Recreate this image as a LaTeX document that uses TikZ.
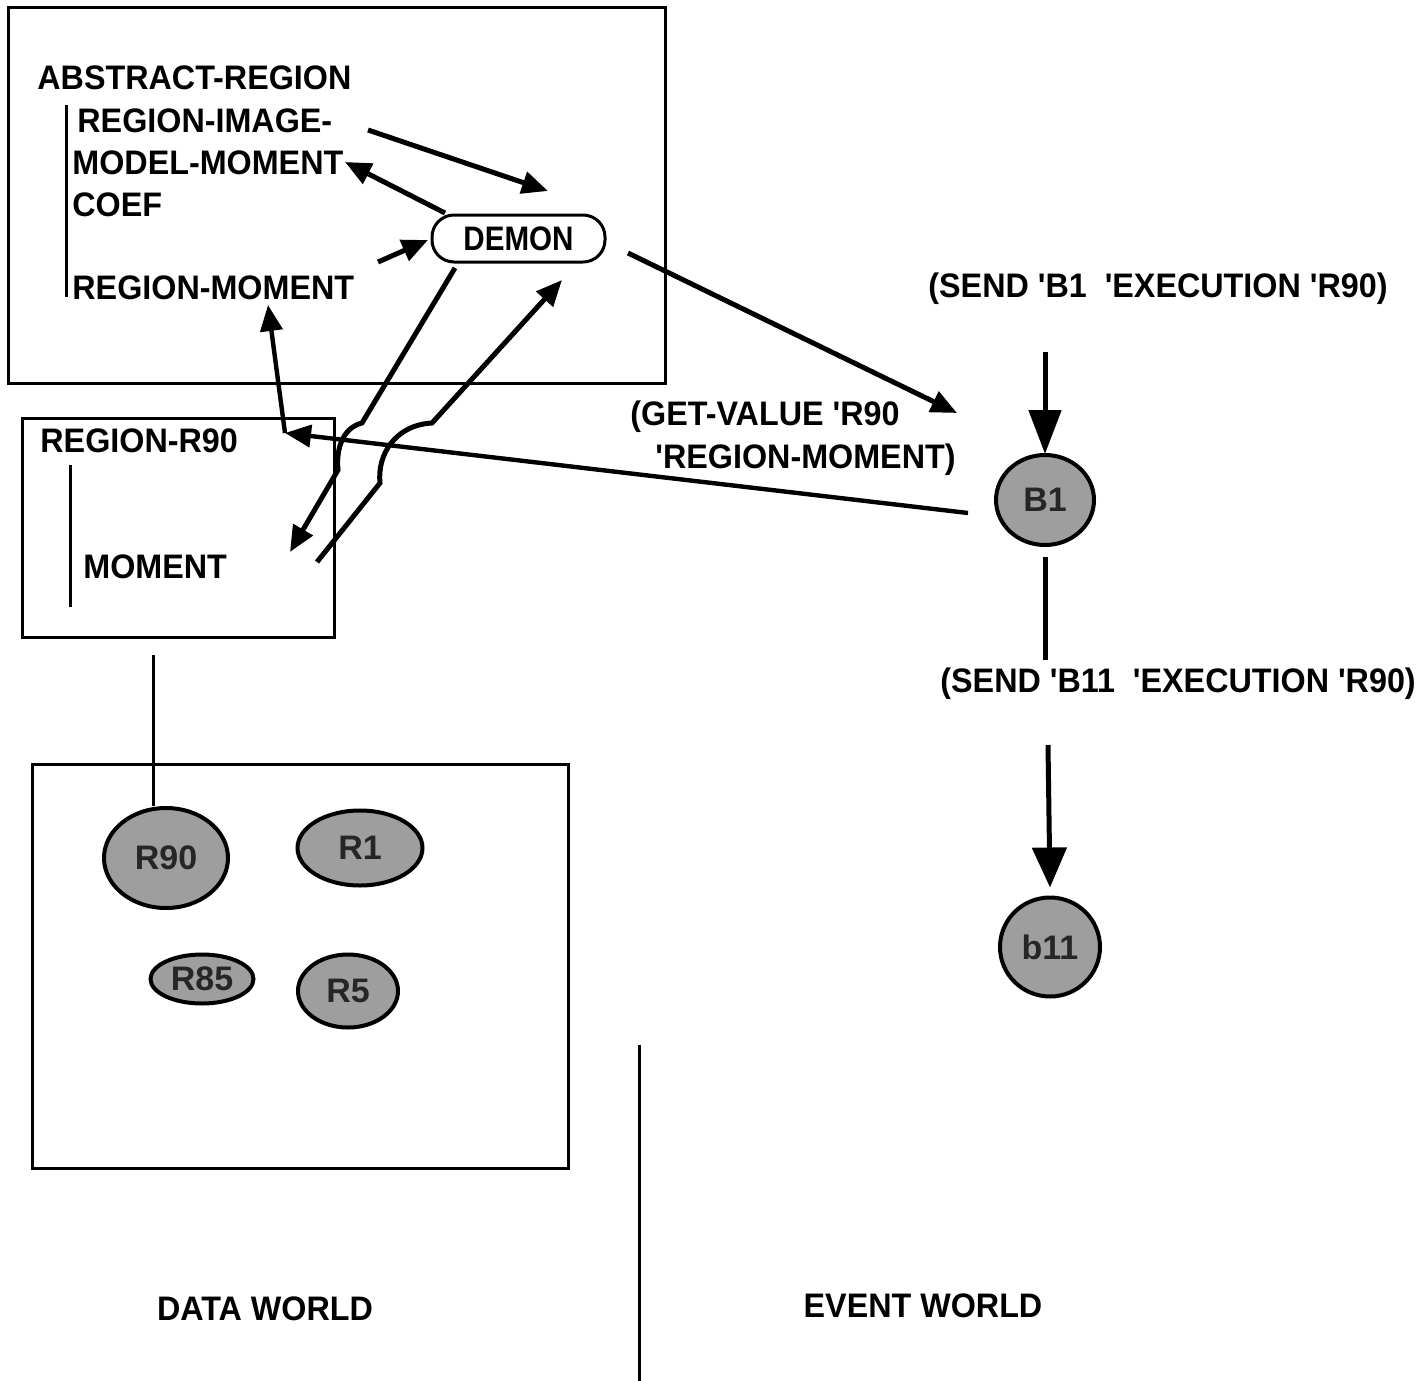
\documentclass[tikz,border=0pt]{standalone}
\usepackage{fontspec}
\setmainfont{Liberation Sans}[Ligatures=TeXOff]
\usetikzlibrary{arrows.meta,shapes.geometric}

\newcommand{\nar}[1]{\scalebox{0.95}[1]{#1}}

\tikzset{
  frame/.style={draw, line width=1.5pt},
  lbl/.style={inner sep=0pt, anchor=base west, font=\fontsize{17}{20}\selectfont\bfseries},
  ctr/.style={inner sep=0pt, anchor=base, font=\fontsize{17}{20}\selectfont\bfseries},
  bar/.style={line width=1.5pt},
  heavy/.style={line width=2.5pt, -{Triangle[length=13pt,width=11pt]}},
  plainheavy/.style={line width=2.5pt},
  bigtip/.style={line width=2.5pt, -{Triangle[length=22pt,width=16pt]}},
  blob/.style={ellipse, draw, line width=2pt, fill=black!38, inner sep=0pt,
               text=black!85, font=\fontsize{17}{19}\selectfont\bfseries},
  demonbox/.style={draw, line width=1.5pt, rounded corners=11pt, inner sep=0pt,
                   minimum width=86.5pt, minimum height=23.5pt,
                   font=\fontsize{17}{20}\selectfont\bfseries}
}

\begin{document}
\begin{tikzpicture}[x=0.5pt, y=-0.5pt]
  \useasboundingbox (0,0) rectangle (1425,1381);

  % ---- class hierarchy frame ----
  \draw[frame] (8,7) rectangle (665,383);
  \node[lbl] (abs) at (37,90) {\nar{ABSTRACT-REGION}};
  \draw[bar] (66,105) -- (66,297);
  \node[lbl] (rim) at (77,132) {\nar{REGION-IMAGE-}};
  \node[lbl] (mm)  at (72,174) {\nar{MODEL-MOMENT}};
  \node[lbl] (coef) at (72,216) {\nar{COEF}};
  \node[lbl] (rm)  at (72,299) {\nar{REGION-MOMENT}};

  \node[demonbox] (demon) at (518.5,238.5) {\scalebox{0.87}[1]{DEMON}};

  % ---- instance frame ----
  \draw[frame] (22,418) rectangle (334,637);
  \node[lbl] (rr90) at (40,452) {\nar{REGION-R90}};
  \draw[bar] (70,465) -- (70,607);
  \node[lbl] (mom) at (83,578) {\nar{MOMENT}};

  % ---- data world frame ----
  \draw[frame] (32,764) rectangle (568,1168);
  \node[blob, minimum width=62pt, minimum height=50pt] (r90) at (166,858) {R90};
  \node[blob, minimum width=62.5pt, minimum height=37.5pt] (r1) at (360,848) {R1};
  \node[blob, minimum width=51.5pt, minimum height=24.5pt] (r85) at (202,979) {R85};
  \node[blob, minimum width=50pt, minimum height=36.5pt] (r5) at (348,991) {R5};

  \coordinate (rbar) at (153,655);
  \draw[bar] (rbar) -- (rbar |- r90.north);

  % ---- event world ----
  \node[lbl] (send1) at (928,297) {\nar{(SEND 'B1\ \ 'EXECUTION 'R90)}};
  \node[blob, minimum width=49pt, minimum height=45pt] (b1) at (1045,500) {B1};
  \node[lbl] (send11) at (940,692) {\nar{(SEND 'B11\ \ 'EXECUTION 'R90)}};
  \node[blob, minimum width=50pt, minimum height=49.5pt] (b11) at (1050,947) {b11};

  \node[lbl] (gv1) at (630,425) {\nar{(GET-VALUE 'R90}};
  \node[lbl] (gv2) at (655,468) {\nar{'REGION-MOMENT)}};

  \coordinate (s1top) at (1045,352);
  \draw[bigtip] (s1top) -- ([yshift=-0.5pt]b1.north);
  \coordinate (s11bot) at (1045,660);
  \draw[plainheavy] ([yshift=-5pt]b1.south) -- (s11bot);
  \coordinate (s11top) at (1048,745);
  \draw[line width=2.5pt, -{Triangle[length=20pt,width=17pt]}] (s11top) -- ([yshift=4pt]b11.north);

  % ---- message arrows ----
  \coordinate (rimend) at (368,130);
  \coordinate (demin1) at (548,191);
  \draw[heavy] (rimend) -- (demin1);

  \coordinate (demout1) at (445,213);
  \coordinate (mmend) at (345,162);
  \draw[heavy] (demout1) -- (mmend);

  \coordinate (rmend) at (378,262);
  \coordinate (demin2) at (428,240);
  \draw[heavy] (rmend) -- (demin2);

  \coordinate (demout2) at (628,253);
  \coordinate (b1in) at (957,413);
  \draw[heavy] (demout2) -- (b1in);

  % demon -> MOMENT slot, hopping over the crossing lines
  \coordinate (demout3) at (455,268);
  \coordinate (momin) at (290,552);
  \draw[heavy] (demout3) -- (362,423) .. controls (342,428) and (336,450) .. (338,470) -- (momin);

  % MOMENT slot -> demon, hopping over the crossing lines
  \coordinate (momout) at (317,562);
  \coordinate (demin3) at (562,280);
  \draw[heavy] (momout) -- (380,483) .. controls (377,455) and (395,425) .. (432,423) -- (demin3);

  % B1 -> REGION-R90 -> REGION-MOMENT
  \coordinate (b1out) at (968,513);
  \coordinate (corner) at (285,433);
  \coordinate (rmin) at (268,305);
  \draw[line width=2.2pt, -{Triangle[length=13pt,width=11pt]}] (b1out) -- (corner);
  \draw[line width=2.2pt, -{Triangle[length=13pt,width=11pt]}] (corner) -- (rmin);

  % ---- world captions and divider ----
  \node[ctr] (dw) at (265,1320) {\nar{DATA WORLD}};
  \node[ctr] (ew) at (923,1317) {\nar{EVENT WORLD}};
  \coordinate (divtop) at (639,1045);
  \coordinate (divbot) at (639,1381);
  \draw[bar] (divtop) -- (divbot);
\end{tikzpicture}
\end{document}
